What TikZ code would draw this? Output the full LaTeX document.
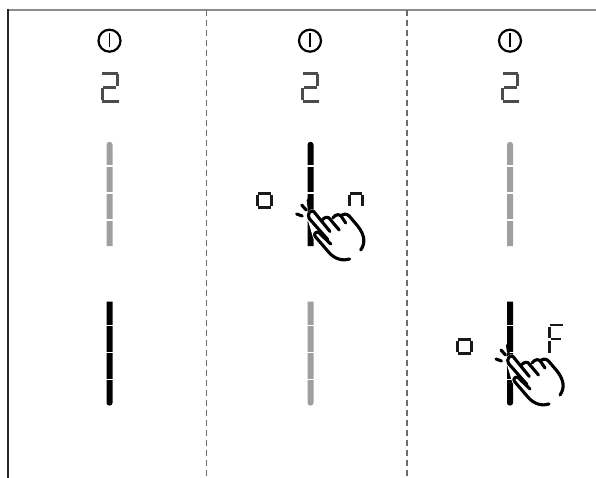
\documentclass[tikz,border=0pt]{standalone}
\usetikzlibrary{positioning}

\tikzset{
    seg/.style={line width=3pt, line cap=butt},
    thinseg/.style={line width=2.3pt, line cap=butt},
    taphand/.pic={
        % white patch under the hand
        \fill[white, draw=white, line width=3.5pt]
            (-1.5,3.5) .. controls (-4,-1) and (0,-5.5) .. (3,-3.5)
            -- (10,4) -- (17,2) -- (24,2) -- (33,0) -- (47,14) -- (53,26) -- (50,36)
            -- (39,45) -- (26,44) -- (4,22) -- cycle;
        \draw[handline]
            (17,24.5) -- (-1.5,3.5) .. controls (-4,-1) and (0,-5.5) .. (3,-3.5)
            -- (19.3,16.5);
        \draw[handline] (20,29) -- (8,17.5) .. controls (5.5,16) and (2.5,19) .. (4.5,21.5)
            -- (17,36) .. controls (24,45) and (33,46) .. (39,44);
        \draw[handline] (11,5.5) .. controls (14,1.5) and (18,1) .. (20,5) -- (28.5,15);
        \draw[handline] (22,3) .. controls (25,-1) and (29,-1.5) .. (31,2) -- (35,8);
        \draw[handline] (30,1) .. controls (33,-1.5) and (36,-1.5) .. (38.5,1)
            -- (47,11) .. controls (54,20) and (55,28) .. (50,35);
        % the three short marks at the finger tip
        \draw[handline] (-14,-1) -- (-8.5,1);
        \draw[handline] (-9,-10) -- (-4.5,-5);
        \draw[handline] (-2.5,-15) -- (-1.5,-8);
    },
    handline/.style={line width=3.1pt, line cap=round, line join=round, black}
}

\newcommand{\bargaps}[2]{%
    \fill[white] (#1-4,#2+23.3) rectangle (#1+4,#2+24.7);
    \fill[white] (#1-4,#2+50.3) rectangle (#1+4,#2+51.7);
    \fill[white] (#1-4,#2+77.3) rectangle (#1+4,#2+78.7);
}
\newcommand{\upperbar}[3]{%
    % #1 x, #2 top y, #3 colour
    \fill[#3] (#1-3,#2+104) -- (#1+3,#2+104) [rounded corners=2.6pt] -- (#1+3,#2) -- (#1-3,#2) [sharp corners] -- cycle;
    \bargaps{#1}{#2}
}
\newcommand{\lowerbar}[3]{%
    \fill[#3] (#1-3,#2) -- (#1+3,#2) [rounded corners=2.6pt] -- (#1+3,#2+104) -- (#1-3,#2+104) [sharp corners] -- cycle;
    \bargaps{#1}{#2}
}

\begin{document}
\begin{tikzpicture}[x=1pt, y=-1pt,
    dashline/.style={line width=1.2pt, gray!85!black, dash pattern=on 6pt off 4pt}
]
\useasboundingbox (0,0) rectangle (596,478);

% frame
\draw[line width=2pt, gray!90] (8,10) -- (596,10);
\draw[line width=1.5pt, black!85] (8,9) -- (8,478);
\draw[dashline] (206.5,10) -- (206.5,478);
\draw[dashline] (407,10) -- (407,478);

% power symbol and digit
\foreach \xc in {109.5,310,510} {
    \draw[line width=2.2pt] (\xc,40.7) circle (11);
    \draw[line width=1.5pt] (\xc,33.5) -- (\xc,47);
    \begin{scope}[shift={(\xc-9,72)}, gray!60!black]
        \draw[seg] (1.5,1.5) -- (17,1.5);
        \draw[seg] (16.5,2.5) -- (16.5,14);
        \draw[seg] (2.5,15.3) -- (15.5,15.3);
        \draw[seg] (1.5,16.5) -- (1.5,28);
        \draw[seg] (1.5,29.3) -- (18,29.3);
    \end{scope}
}

% level bars
\upperbar{109.5}{142}{gray!75}
\lowerbar{109.5}{301.5}{black}
\upperbar{310.5}{142}{black}
\lowerbar{310.5}{301.5}{gray!75}
\upperbar{510}{142}{gray!75}
\lowerbar{510}{301.5}{black}

% o n
\draw[seg, black!90] (258,193.5) -- (271,193.5) (258,207.5) -- (271,207.5) (257.5,195) -- (257.5,206) (271.5,195) -- (271.5,206);
\draw[thinseg, black!90] (350,193.5) -- (362,193.5) (349.5,195) -- (349.5,206) (362.5,195) -- (362.5,206);

% o F
\draw[seg, black!90] (458,339.5) -- (471,339.5) (458,353.5) -- (471,353.5) (457.5,341) -- (457.5,352) (471.5,341) -- (471.5,352);
\draw[thinseg, black!90] (549.5,325) -- (562.5,325) (549.5,326.5) -- (549.5,338) (550.5,339) -- (561,339) (549.5,340.5) -- (549.5,352.5);

% hands
\pic (handon) at (310.7,215) {taphand};
\pic (handoff) at (510,360) {taphand};

\end{tikzpicture}
\end{document}
